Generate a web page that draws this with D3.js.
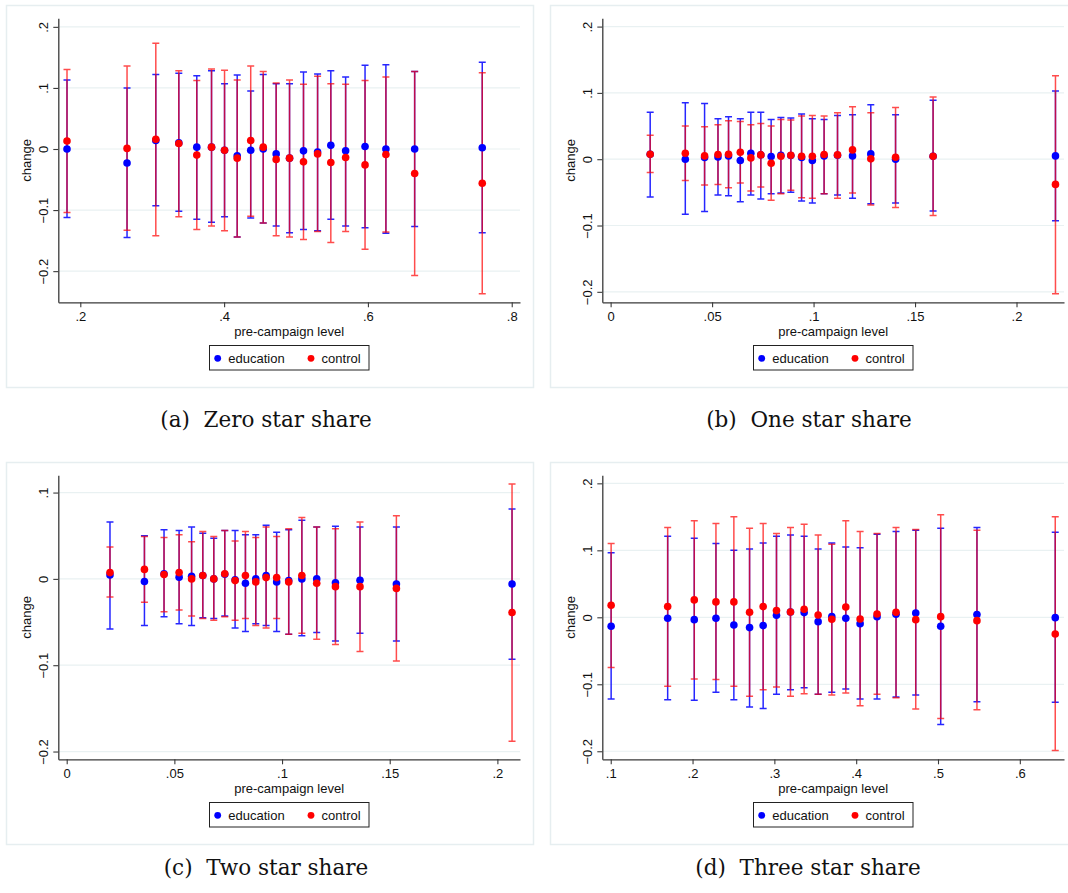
<!DOCTYPE html>
<html>
<head>
<meta charset="utf-8">
<script src="https://cdn.jsdelivr.net/npm/d3@7"></script>
<style>
  html, body { margin: 0; padding: 0; background: #ffffff; }
  svg { display: block; }
  .sans { font-family: "Liberation Sans", Arial, Helvetica, sans-serif; }
</style>
</head>
<body>
<svg id="chart" width="1068" height="893"></svg>
<script>
// ---------- Data ----------
// Panel (a) Zero star share
const xA     = [0.1815,0.265,0.305,0.337,0.362,0.3825,0.4006,0.4182,0.437,0.4544,0.4724,0.491,0.5104,0.530,0.5484,0.569,0.596,0.625,0.665,0.759];
const eduA   = [0.000,-0.023,0.014,0.010,0.003,0.003,-0.002,-0.011,-0.002,0.000,-0.008,-0.015,-0.003,-0.005,0.006,-0.003,0.004,0.000,0.000,0.002];
const eduLoA = [-0.112,-0.145,-0.093,-0.102,-0.115,-0.120,-0.111,-0.144,-0.113,-0.121,-0.126,-0.137,-0.132,-0.134,-0.115,-0.126,-0.129,-0.138,-0.127,-0.137];
const eduHiA = [0.113,0.100,0.122,0.124,0.120,0.128,0.107,0.121,0.095,0.122,0.107,0.107,0.126,0.123,0.128,0.118,0.137,0.138,0.127,0.142];
const ctlA   = [0.013,0.001,0.016,0.009,-0.010,0.003,-0.002,-0.015,0.014,0.003,-0.017,-0.015,-0.021,-0.008,-0.022,-0.014,-0.026,-0.009,-0.040,-0.056];
const ctlLoA = [-0.104,-0.133,-0.142,-0.111,-0.132,-0.126,-0.134,-0.144,-0.110,-0.121,-0.142,-0.144,-0.148,-0.135,-0.153,-0.135,-0.164,-0.136,-0.207,-0.237];
const ctlHiA = [0.130,0.136,0.173,0.128,0.112,0.131,0.129,0.113,0.136,0.127,0.108,0.113,0.106,0.119,0.107,0.106,0.112,0.118,0.127,0.125];

// Panel (b) One star share
const xB     = [0.0195,0.0368,0.0463,0.0529,0.0581,0.0639,0.0691,0.0740,0.0791,0.0839,0.0888,0.0941,0.0994,0.1052,0.1118,0.1192,0.1282,0.1404,0.1589,0.2192];
const eduB   = [0.0075,0.000,0.0025,0.0035,0.005,-0.002,0.009,0.0065,0.004,0.006,0.0055,0.0025,-0.002,0.005,0.006,0.005,0.008,0.000,0.0045,0.005];
const eduLoB = [-0.057,-0.083,-0.079,-0.054,-0.055,-0.064,-0.054,-0.060,-0.052,-0.051,-0.050,-0.063,-0.066,-0.052,-0.054,-0.059,-0.067,-0.066,-0.078,-0.093];
const eduHiB = [0.071,0.085,0.084,0.061,0.064,0.061,0.071,0.071,0.060,0.063,0.062,0.068,0.061,0.060,0.066,0.067,0.082,0.067,0.089,0.103];
const ctlB   = [0.0075,0.009,0.005,0.007,0.0075,0.0105,0.002,0.0065,-0.006,0.0045,0.006,0.0045,0.0045,0.007,0.0065,0.014,0.0005,0.003,0.0045,-0.038];
const ctlLoB = [-0.020,-0.032,-0.039,-0.038,-0.043,-0.036,-0.048,-0.042,-0.062,-0.052,-0.047,-0.058,-0.059,-0.052,-0.059,-0.051,-0.069,-0.073,-0.085,-0.203];
const ctlHiB = [0.036,0.050,0.049,0.052,0.058,0.057,0.052,0.054,0.050,0.060,0.059,0.065,0.066,0.065,0.070,0.079,0.070,0.078,0.094,0.126];

// Panel (c) Two star share
const xC     = [0.0201,0.0361,0.0452,0.0522,0.058,0.0632,0.0683,0.0734,0.0782,0.083,0.0878,0.0926,0.0975,0.1031,0.1092,0.1161,0.1248,0.1362,0.1531,0.2068];
const eduC   = [0.0046,-0.003,0.006,0.002,0.003,0.004,0.000,0.0054,-0.001,-0.005,0.000,0.004,-0.0035,-0.002,0.000,0.000,-0.0046,-0.0015,-0.006,-0.006];
const eduLoC = [-0.058,-0.054,-0.044,-0.052,-0.054,-0.045,-0.046,-0.043,-0.057,-0.061,-0.052,-0.054,-0.061,-0.064,-0.066,-0.062,-0.072,-0.063,-0.072,-0.093];
const eduHiC = [0.066,0.050,0.057,0.056,0.060,0.053,0.047,0.056,0.056,0.051,0.051,0.062,0.054,0.057,0.068,0.060,0.061,0.060,0.060,0.081];
const ctlC   = [0.0073,0.011,0.005,0.0073,0.000,0.004,0.000,0.006,-0.002,0.004,-0.0035,0.0015,0.0015,-0.0035,0.004,-0.005,-0.009,-0.009,-0.011,-0.039];
const ctlLoC = [-0.021,-0.027,-0.038,-0.036,-0.043,-0.046,-0.048,-0.044,-0.048,-0.046,-0.054,-0.057,-0.046,-0.064,-0.063,-0.070,-0.076,-0.084,-0.095,-0.188];
const ctlHiC = [0.037,0.049,0.048,0.051,0.043,0.055,0.049,0.056,0.044,0.055,0.048,0.060,0.049,0.058,0.071,0.060,0.058,0.066,0.073,0.110];

// Panel (d) Three star share
const xD     = [0.1005,0.1696,0.2021,0.2286,0.2505,0.2697,0.2863,0.3026,0.3197,0.3364,0.3535,0.3702,0.3873,0.4048,0.4255,0.4487,0.4728,0.5033,0.5476,0.6433];
const eduD   = [-0.0134,-0.0015,-0.0035,-0.0015,-0.0114,-0.0154,-0.0124,0.003,0.008,0.007,-0.0065,0.001,-0.0015,-0.0095,0.001,0.0045,0.0065,-0.0134,0.004,-0.0005];
const eduLoD = [-0.122,-0.123,-0.124,-0.112,-0.123,-0.134,-0.136,-0.115,-0.108,-0.105,-0.115,-0.112,-0.107,-0.122,-0.122,-0.119,-0.116,-0.160,-0.126,-0.127];
const eduHiD = [0.0965,0.121,0.118,0.110,0.100,0.102,0.111,0.121,0.123,0.121,0.102,0.111,0.105,0.104,0.124,0.128,0.130,0.133,0.134,0.127];
const ctlD   = [0.018,0.016,0.026,0.023,0.023,0.0075,0.016,0.010,0.008,0.012,0.0035,-0.003,0.0154,-0.0025,0.005,0.0075,-0.0035,0.001,-0.005,-0.025];
const ctlLoD = [-0.075,-0.103,-0.092,-0.093,-0.103,-0.118,-0.108,-0.104,-0.118,-0.114,-0.115,-0.116,-0.113,-0.132,-0.115,-0.120,-0.137,-0.151,-0.138,-0.199];
const ctlHiD = [0.110,0.134,0.144,0.140,0.150,0.133,0.140,0.125,0.134,0.139,0.123,0.109,0.144,0.128,0.125,0.134,0.131,0.153,0.130,0.150];

// Axis ticks
const xTicksA = [0.2, 0.4, 0.6, 0.8];
const xTicksB = [0, 0.05, 0.1, 0.15, 0.2];
const xTicksC = [0, 0.05, 0.1, 0.15, 0.2];
const xTicksD = [0.1, 0.2, 0.3, 0.4, 0.5, 0.6];
const yTicksA = [-0.2, -0.1, 0, 0.1, 0.2];
const yTicksB = [-0.2, -0.1, 0, 0.1, 0.2];
const yTicksC = [-0.2, -0.1, 0, 0.1];
const yTicksD = [-0.2, -0.1, 0, 0.1, 0.2];

const captions = ["(a)  Zero star share", "(b)  One star share", "(c)  Two star share", "(d)  Three star share"];
const seriesNames = ["education", "control"];
const xLabel = "pre-campaign level";
const yLabel = "change";

// ---------- Panel configuration (layout) ----------
const panels = [
  { ox: 0,   oy: 0,   x: xA, edu: eduA, eduLo: eduLoA, eduHi: eduHiA, ctl: ctlA, ctlLo: ctlLoA, ctlHi: ctlHiA,
    xDom: [0.1694, 0.8115], yDom: [-0.251, 0.214], xt: xTicksA, yt: yTicksA, cap: captions[0], capX: 266, capY: 427 },
  { ox: 544, oy: 0,   x: xB, edu: eduB, eduLo: eduLoB, eduHi: eduHiB, ctl: ctlB, ctlLo: ctlLoB, ctlHi: ctlHiB,
    xDom: [-0.0041, 0.2234], yDom: [-0.2158, 0.2125], xt: xTicksB, yt: yTicksB, cap: captions[1], capX: 809, capY: 427 },
  { ox: 0,   oy: 457, x: xC, edu: eduC, eduLo: eduLoC, eduHi: eduHiC, ctl: ctlC, ctlLo: ctlLoC, ctlHi: ctlHiC,
    xDom: [-0.0039, 0.2105], yDom: [-0.209, 0.120], xt: xTicksC, yt: yTicksC, cap: captions[2], capX: 266, capY: 875 },
  { ox: 544, oy: 457, x: xD, edu: eduD, eduLo: eduLoD, eduHi: eduHiD, ctl: ctlD, ctlLo: ctlLoD, ctlHi: ctlHiD,
    xDom: [0.0897, 0.654], yDom: [-0.212, 0.212], xt: xTicksD, yt: yTicksD, cap: captions[3], capX: 808, capY: 875 }
];

const PL = 58.3, PR = 520, PT = 18.3, PB = 302.3;
const BLUE = "#0000ff", RED = "#ff0000";
const GRID = "#e9f1f2", FRAME = "#e6eef0", AXIS = "#3a3a3a";

// Stata-style number format: .2, -.1, 0, .05
const stataFmt = v => {
  if (Math.abs(v) < 1e-12) return "0";
  let s = d3.format("~g")(+v.toFixed(6));
  return s.replace(/^0\./, ".").replace(/^-0\./, "-.");
};

const svg = d3.select("#chart");
svg.append("rect").attr("width", 1068).attr("height", 893).attr("fill", "#ffffff");

panels.forEach(p => {
  const g = svg.append("g").attr("transform", `translate(${p.ox},${p.oy})`);

  // outer frame
  g.append("rect").attr("x", 6.5).attr("y", 5.5).attr("width", 527).attr("height", 382)
    .attr("fill", "#ffffff").attr("stroke", FRAME).attr("stroke-width", 1.5);

  const x = d3.scaleLinear().domain(p.xDom).range([PL, PR]);
  const y = d3.scaleLinear().domain(p.yDom).range([PB, PT]);

  // gridlines
  g.append("g").selectAll("line").data(p.yt).join("line")
    .attr("x1", PL).attr("x2", PR)
    .attr("y1", d => y(d)).attr("y2", d => y(d))
    .attr("stroke", GRID).attr("stroke-width", 1.2);

  // axes
  const xAxis = d3.axisBottom(x).tickValues(p.xt).tickFormat(stataFmt)
    .tickSizeInner(5).tickSizeOuter(0).tickPadding(4);
  const gx = g.append("g").attr("transform", `translate(0,${PB})`).call(xAxis);
  gx.attr("font-family", null).attr("font-size", null).attr("class", "sans");
  gx.selectAll("text").attr("font-size", 13).attr("fill", "#111");

  const yAxis = d3.axisLeft(y).tickValues(p.yt).tickFormat(stataFmt)
    .tickSizeInner(5).tickSizeOuter(0);
  const gy = g.append("g").attr("transform", `translate(${PL},0)`).call(yAxis);
  gy.attr("font-family", null).attr("font-size", null).attr("class", "sans");
  gy.selectAll("text")
    .attr("x", null).attr("dy", null)
    .attr("transform", "translate(-10,0) rotate(-90)")
    .attr("text-anchor", "middle")
    .attr("font-size", 13).attr("fill", "#111");

  [gx, gy].forEach(a => {
    a.select(".domain").attr("stroke", AXIS).attr("stroke-width", 1.3);
    a.selectAll(".tick line").attr("stroke", AXIS).attr("stroke-width", 1.1);
  });

  // axis titles
  g.append("text").attr("class", "sans")
    .attr("x", (PL + PR) / 2).attr("y", 335.5)
    .attr("text-anchor", "middle").attr("font-size", 13).attr("fill", "#111")
    .text(xLabel);
  g.append("text").attr("class", "sans")
    .attr("transform", `translate(31,${(PT + PB) / 2}) rotate(-90)`)
    .attr("text-anchor", "middle").attr("font-size", 13).attr("fill", "#111")
    .text(yLabel);

  const idx = d3.range(p.x.length);
  const cap = 3.5;

  function drawBars(lo, hi, color, opacity) {
    const gb = g.append("g").attr("stroke", color).attr("stroke-opacity", opacity)
      .attr("stroke-width", 1.5).attr("fill", "none");
    gb.selectAll("path").data(idx).join("path")
      .attr("d", i => {
        const xi = x(p.x[i]), y0 = y(lo[i]), y1 = y(hi[i]);
        return `M${xi},${y0}V${y1}M${xi - cap},${y0}H${xi + cap}M${xi - cap},${y1}H${xi + cap}`;
      });
  }
  drawBars(p.eduLo, p.eduHi, BLUE, 0.85);
  drawBars(p.ctlLo, p.ctlHi, RED, 0.7);

  g.append("g").selectAll("circle").data(idx).join("circle")
    .attr("cx", i => x(p.x[i])).attr("cy", i => y(p.edu[i])).attr("r", 3.8).attr("fill", BLUE);
  g.append("g").selectAll("circle").data(idx).join("circle")
    .attr("cx", i => x(p.x[i])).attr("cy", i => y(p.ctl[i])).attr("r", 3.8).attr("fill", RED);

  // legend
  const lg = g.append("g").attr("class", "sans");
  lg.append("rect").attr("x", 209.5).attr("y", 345.5).attr("width", 159.5).attr("height", 24.5)
    .attr("fill", "#ffffff").attr("stroke", "#222").attr("stroke-width", 1);
  const legItems = [{ name: seriesNames[0], color: BLUE, dx: 217.7 }, { name: seriesNames[1], color: RED, dx: 311 }];
  legItems.forEach(it => {
    lg.append("circle").attr("cx", it.dx).attr("cy", 358.3).attr("r", 3.4).attr("fill", it.color);
    lg.append("text").attr("x", it.dx + 10.6).attr("y", 363).attr("font-size", 13).attr("fill", "#111").text(it.name);
  });

  // caption
  svg.append("text")
    .attr("x", p.capX).attr("y", p.capY)
    .attr("text-anchor", "middle")
    .attr("font-family", "'DejaVu Serif', 'Liberation Serif', serif")
    .attr("font-size", 21.5).attr("fill", "#111")
    .style("white-space", "pre")
    .text(p.cap);
});
</script>
</body>
</html>
